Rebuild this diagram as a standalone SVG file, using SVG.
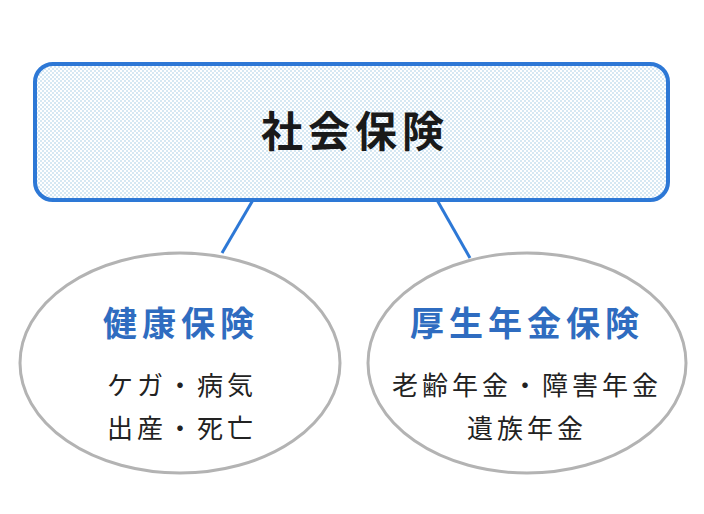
<svg xmlns="http://www.w3.org/2000/svg" width="704" height="514" viewBox="0 0 704 514">
<style>
.t{font-family:"Noto Sans CJK JP","Noto Sans",sans-serif;text-anchor:middle}
.h{font-size:42px;font-weight:bold;fill:#1a1a1a;letter-spacing:5px}
.s{font-size:34px;font-weight:bold;fill:#2f6cc0;letter-spacing:5px}
.b{font-size:26px;fill:#222;letter-spacing:4px}
.e{fill:#fff;stroke:#b3b3b3;stroke-width:3}
</style>
<defs>
<pattern id="dots" width="4" height="4" patternUnits="userSpaceOnUse">
<rect width="4" height="4" fill="#ffffff"/>
<rect x="0" y="0" width="2" height="2" fill="#d6e8f3"/>
<rect x="2" y="2" width="2" height="2" fill="#d6e8f3"/>
</pattern>
</defs>
<g id="connectors" stroke="#2d78d6" stroke-width="3">
<line x1="253" y1="200" x2="222" y2="253"/>
<line x1="437" y1="200" x2="470" y2="258"/>
</g>
<g id="social">
<rect x="35" y="64" width="633" height="136" rx="18" fill="url(#dots)" stroke="#2d78d6" stroke-width="4"/>
<text class="t h" x="355" y="147">社会保険</text>
</g>
<g id="health">
<ellipse class="e" cx="180" cy="363" rx="160" ry="110"/>
<text class="t s" x="181" y="336">健康保険</text>
<text class="t b" x="182" y="395">ケガ・病気</text>
<text class="t b" x="182" y="438">出産・死亡</text>
</g>
<g id="pension">
<ellipse class="e" cx="527" cy="363" rx="159" ry="110"/>
<text class="t s" x="527" y="336">厚生年金保険</text>
<text class="t b" x="527" y="395">老齢年金・障害年金</text>
<text class="t b" x="527" y="438">遺族年金</text>
</g>
</svg>
